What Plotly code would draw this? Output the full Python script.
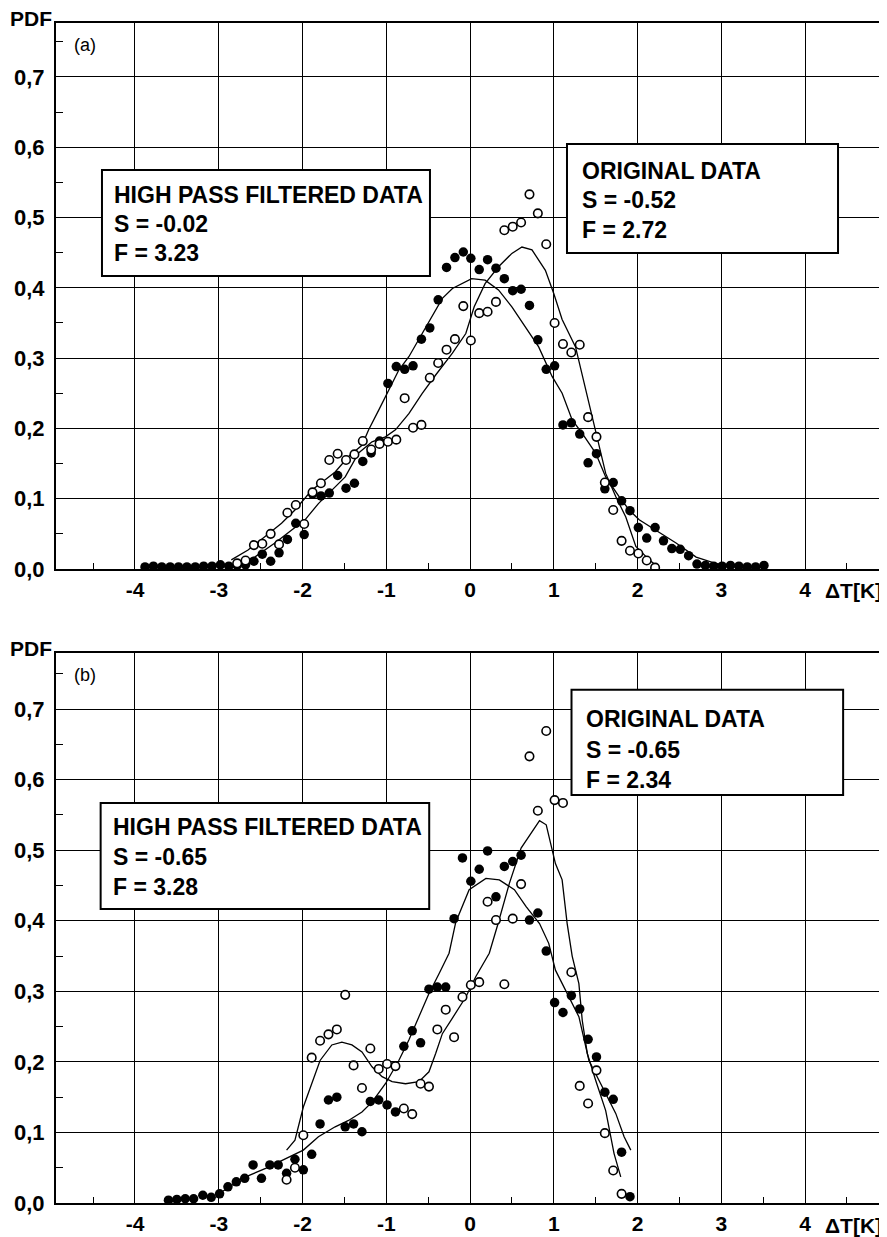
import plotly.graph_objects as go

# ---------------- data: panel (a) ----------------
a_fx = [
    -3.88, -3.78, -3.68, -3.58, -3.48, -3.38, -3.28, -3.18, -3.08, -2.98,
    -2.88, -2.78, -2.68, -2.58, -2.48, -2.38, -2.28, -2.18, -2.08, -1.98,
    -1.88, -1.78, -1.68, -1.58, -1.48, -1.38, -1.28, -1.18, -1.08, -0.98,
    -0.88, -0.78, -0.68, -0.58, -0.48, -0.38, -0.28, -0.18, -0.08, 0.01,
    0.11, 0.21, 0.31, 0.41, 0.51, 0.61, 0.71, 0.81, 0.91, 1.01,
    1.11, 1.21, 1.31, 1.41, 1.51, 1.61, 1.71, 1.81, 1.91, 2.01,
    2.11, 2.21, 2.31, 2.41, 2.51, 2.61, 2.71, 2.81, 2.91, 3.01,
    3.11, 3.21, 3.31, 3.41, 3.51]
a_fy = [
    0.003, 0.004, 0.003, 0.003, 0.003, 0.003, 0.003, 0.004, 0.004, 0.006,
    0.004, 0.005, 0.006, 0.011, 0.021, 0.011, 0.023, 0.042, 0.065, 0.049,
    0.107, 0.104, 0.108, 0.133, 0.115, 0.122, 0.153, 0.165, 0.182, 0.264,
    0.288, 0.284, 0.289, 0.327, 0.343, 0.383, 0.429, 0.443, 0.451, 0.442,
    0.426, 0.440, 0.428, 0.413, 0.396, 0.398, 0.375, 0.326, 0.284, 0.289,
    0.205, 0.208, 0.192, 0.151, 0.164, 0.114, 0.123, 0.097, 0.083, 0.059,
    0.044, 0.059, 0.040, 0.029, 0.028, 0.019, 0.007, 0.005, 0.004, 0.004,
    0.005, 0.004, 0.003, 0.003, 0.005]

a_ox = [
    -2.78, -2.68, -2.58, -2.48, -2.38, -2.28, -2.18, -2.08, -1.98, -1.88,
    -1.78, -1.68, -1.58, -1.48, -1.38, -1.28, -1.18, -1.08, -0.98, -0.88,
    -0.78, -0.68, -0.58, -0.48, -0.38, -0.28, -0.18, -0.08, 0.01, 0.11,
    0.21, 0.31, 0.41, 0.51, 0.61, 0.71, 0.81, 0.91, 1.01, 1.11,
    1.21, 1.31, 1.41, 1.51, 1.61, 1.71, 1.81, 1.91, 2.01, 2.11,
    2.21]
a_oy = [
    0.008, 0.012, 0.034, 0.036, 0.050, 0.035, 0.080, 0.091, 0.064, 0.109,
    0.122, 0.155, 0.164, 0.155, 0.163, 0.182, 0.170, 0.178, 0.181, 0.184,
    0.243, 0.201, 0.205, 0.272, 0.293, 0.312, 0.327, 0.374, 0.325, 0.364,
    0.366, 0.380, 0.482, 0.487, 0.493, 0.533, 0.506, 0.462, 0.350, 0.320,
    0.308, 0.319, 0.216, 0.188, 0.123, 0.084, 0.040, 0.026, 0.022, 0.012,
    0.002]

a_l1x = [-2.85, -2.65, -2.45, -2.25, -2.09, -1.89, -1.61, -1.45, -1.29, -1.21,
         -1.09, -0.97, -0.85, -0.73, -0.57, -0.45, -0.33, -0.21, 0.02, 0.18,
         0.34, 0.50, 0.66, 0.82, 0.98, 1.10, 1.22, 1.34, 1.50, 1.62,
         1.78, 1.90, 2.02, 2.22, 2.46, 2.70, 2.93, 3.17]
a_l1y = [0.013, 0.027, 0.046, 0.065, 0.084, 0.112, 0.138, 0.160, 0.176, 0.198,
         0.226, 0.255, 0.283, 0.302, 0.335, 0.360, 0.385, 0.399, 0.413, 0.411,
         0.397, 0.373, 0.345, 0.316, 0.274, 0.250, 0.212, 0.193, 0.165, 0.131,
         0.103, 0.084, 0.070, 0.055, 0.037, 0.017, 0.008, 0.003]

a_l2x = [-2.81, -2.57, -2.33, -2.13, -1.97, -1.81, -1.65, -1.49, -1.33, -1.17,
         -1.01, -0.89, -0.73, -0.57, -0.41, -0.21, -0.05, 0.05, 0.18, 0.34,
         0.50, 0.62, 0.74, 0.90, 1.00, 1.10, 1.26, 1.38, 1.50, 1.62,
         1.74, 1.86, 1.98, 2.14, 2.26]
a_l2y = [0.008, 0.017, 0.037, 0.055, 0.070, 0.093, 0.112, 0.131, 0.165, 0.181,
         0.188, 0.198, 0.221, 0.250, 0.276, 0.307, 0.335, 0.373, 0.406, 0.430,
         0.449, 0.458, 0.454, 0.425, 0.392, 0.355, 0.316, 0.255, 0.198, 0.136,
         0.103, 0.074, 0.032, 0.013, 0.001]

# ---------------- data: panel (b) ----------------
b_fx = [
    -3.60, -3.50, -3.40, -3.30, -3.19, -3.09, -2.99, -2.89, -2.79, -2.69,
    -2.59, -2.49, -2.39, -2.29, -2.19, -2.09, -1.99, -1.89, -1.79, -1.69,
    -1.59, -1.49, -1.39, -1.29, -1.19, -1.09, -0.99, -0.89, -0.79, -0.69,
    -0.59, -0.49, -0.39, -0.29, -0.19, -0.09, 0.01, 0.11, 0.21, 0.31,
    0.41, 0.51, 0.61, 0.71, 0.81, 0.91, 1.01, 1.11, 1.21, 1.31,
    1.41, 1.51, 1.61, 1.71, 1.81, 1.91]
b_fy = [
    0.004, 0.005, 0.006, 0.006, 0.011, 0.008, 0.013, 0.023, 0.030, 0.035,
    0.054, 0.035, 0.054, 0.054, 0.042, 0.062, 0.047, 0.069, 0.112, 0.146,
    0.150, 0.108, 0.112, 0.101, 0.144, 0.146, 0.139, 0.129, 0.222, 0.244,
    0.227, 0.303, 0.306, 0.306, 0.403, 0.489, 0.456, 0.473, 0.499, 0.434,
    0.477, 0.484, 0.493, 0.401, 0.411, 0.357, 0.284, 0.270, 0.294, 0.275,
    0.232, 0.207, 0.157, 0.147, 0.072, 0.009]

b_ox = [
    -2.19, -2.09, -1.99, -1.89, -1.79, -1.69, -1.59, -1.49, -1.39, -1.29,
    -1.19, -1.09, -0.99, -0.89, -0.79, -0.69, -0.59, -0.49, -0.39, -0.29,
    -0.19, -0.09, 0.01, 0.11, 0.21, 0.31, 0.41, 0.51, 0.61, 0.71,
    0.81, 0.91, 1.01, 1.11, 1.21, 1.31, 1.41, 1.51, 1.61, 1.71,
    1.81]
b_oy = [
    0.033, 0.050, 0.096, 0.206, 0.230, 0.239, 0.246, 0.295, 0.195, 0.163,
    0.219, 0.190, 0.197, 0.194, 0.134, 0.126, 0.169, 0.165, 0.246, 0.274,
    0.235, 0.292, 0.309, 0.313, 0.427, 0.401, 0.310, 0.403, 0.452, 0.633,
    0.556, 0.669, 0.571, 0.567, 0.327, 0.166, 0.141, 0.188, 0.099, 0.046,
    0.013]

b_l1x = [-2.96, -2.72, -2.44, -2.17, -1.99, -1.81, -1.61, -1.45, -1.29, -1.17,
         -1.01, -0.85, -0.73, -0.61, -0.49, -0.37, -0.25, -0.17, -0.01, 0.19,
         0.35, 0.53, 0.67, 0.83, 0.94, 1.02, 1.18, 1.30, 1.42, 1.58,
         1.74, 1.84, 1.92]
b_l1y = [0.016, 0.035, 0.049, 0.065, 0.075, 0.094, 0.108, 0.117, 0.129, 0.143,
         0.169, 0.202, 0.231, 0.264, 0.297, 0.325, 0.354, 0.398, 0.444, 0.460,
         0.458, 0.444, 0.420, 0.396, 0.368, 0.330, 0.292, 0.264, 0.202, 0.165,
         0.127, 0.094, 0.075]

b_l2x = [-2.19, -2.09, -1.99, -1.89, -1.79, -1.65, -1.53, -1.41, -1.29, -1.17,
         -1.05, -0.93, -0.77, -0.61, -0.49, -0.41, -0.33, -0.21, -0.05, 0.07,
         0.23, 0.33, 0.47, 0.61, 0.75, 0.83, 0.91, 1.02, 1.10, 1.16,
         1.22, 1.30, 1.34, 1.40, 1.50, 1.62, 1.72, 1.80]
b_l2y = [0.075, 0.089, 0.136, 0.169, 0.202, 0.224, 0.228, 0.224, 0.214, 0.193,
         0.179, 0.172, 0.169, 0.172, 0.186, 0.212, 0.240, 0.262, 0.292, 0.321,
         0.354, 0.394, 0.453, 0.503, 0.529, 0.542, 0.536, 0.481, 0.458, 0.396,
         0.350, 0.311, 0.259, 0.212, 0.174, 0.131, 0.070, 0.037]

# ---------------- tick labels / texts ----------------
x_ticks = [-4, -3, -2, -1, 0, 1, 2, 3, 4]
x_ticktext = ["-4", "-3", "-2", "-1", "0", "1", "2", "3", "4"]
y_ticks = [0.0, 0.1, 0.2, 0.3, 0.4, 0.5, 0.6, 0.7]
y_ticktext = ["0,0", "0,1", "0,2", "0,3", "0,4", "0,5", "0,6", "0,7"]

a_hp_text = ["HIGH PASS FILTERED DATA", "S = -0.02", "F = 3.23"]
a_or_text = ["ORIGINAL DATA", "S = -0.52", "F = 2.72"]
b_hp_text = ["HIGH PASS FILTERED DATA", "S = -0.65", "F = 3.28"]
b_or_text = ["ORIGINAL DATA", "S = -0.65", "F = 2.34"]

FONT = "Liberation Sans, Arial, sans-serif"

fig = go.Figure()


def add_panel(xa, ya, fx, fy, ox, oy, l1x, l1y, l2x, l2y):
    fig.add_trace(go.Scatter(x=l1x, y=l1y, mode="lines", xaxis=xa, yaxis=ya,
                             line=dict(color="black", width=1.3), hoverinfo="skip"))
    fig.add_trace(go.Scatter(x=l2x, y=l2y, mode="lines", xaxis=xa, yaxis=ya,
                             line=dict(color="black", width=1.3), hoverinfo="skip"))
    fig.add_trace(go.Scatter(x=fx, y=fy, mode="markers", xaxis=xa, yaxis=ya,
                             marker=dict(symbol="circle", size=9.5, color="black",
                                         line=dict(width=0))))
    fig.add_trace(go.Scatter(x=ox, y=oy, mode="markers", xaxis=xa, yaxis=ya,
                             marker=dict(symbol="circle", size=8.5, color="white",
                                         line=dict(width=1.6, color="black"))))


add_panel("x", "y", a_fx, a_fy, a_ox, a_oy, a_l1x, a_l1y, a_l2x, a_l2y)
add_panel("x2", "y2", b_fx, b_fy, b_ox, b_oy, b_l1x, b_l1y, b_l2x, b_l2y)

xminor = [v + 0.5 for v in range(-5, 5)]
yminor = [0.05 + 0.1 * k for k in range(8)]

xcommon = dict(range=[-4.943, 4.931], tickmode="array", tickvals=x_ticks,
               ticktext=x_ticktext, showgrid=True, gridcolor="black", gridwidth=1.3,
               zeroline=False, showline=True, linecolor="black", linewidth=2,
               mirror=True, ticks="", ticklabelstandoff=1, automargin=False,
               tickfont=dict(family=FONT, size=21, color="black", weight="bold"),
               minor=dict(tickmode="array", tickvals=xminor, ticks="inside",
                          ticklen=6, tickwidth=1.2, tickcolor="black", showgrid=False))
ycommon = dict(tickmode="array", tickvals=y_ticks, ticktext=y_ticktext,
               showgrid=True, gridcolor="black", gridwidth=1.3, zeroline=False,
               showline=True, linecolor="black", linewidth=2, mirror=True,
               ticks="", ticklabelstandoff=5, automargin=False,
               tickfont=dict(family=FONT, size=22, color="black", weight="bold"),
               minor=dict(tickmode="array", tickvals=yminor, ticks="inside",
                          ticklen=7, tickwidth=1.2, tickcolor="black", showgrid=False))

# the page body adds an 8 px offset, so the figure is 8 px smaller each way
fig.update_layout(
    width=879, height=1229,
    margin=dict(l=48, r=4, t=15, b=34, autoexpand=False),
    paper_bgcolor="white", plot_bgcolor="white",
    showlegend=False,
    xaxis=dict(domain=[0, 1], anchor="y", **xcommon),
    yaxis=dict(domain=[0.5373, 1.0], anchor="x", range=[0, 0.7768], **ycommon),
    xaxis2=dict(domain=[0, 1], anchor="y2", **xcommon),
    yaxis2=dict(domain=[0.0, 0.4658], anchor="x2", range=[0, 0.779], **ycommon),
)

shapes = []
annots = []


def box(xr, yr, x0, x1, y0, y1, tx, ty, lines):
    shapes.append(dict(type="rect", xref=xr, yref=yr, x0=x0, x1=x1, y0=y0, y1=y1,
                       fillcolor="white", line=dict(color="black", width=2),
                       layer="above"))
    for t, yy in zip(lines, ty):
        annots.append(dict(xref=xr, yref=yr, x=tx, y=yy, text=t, showarrow=False,
                           xanchor="left", yanchor="middle", borderpad=0,
                           font=dict(family=FONT, size=23, color="black", weight="bold")))


box("x", "y", -4.394, -0.478, 0.4168, 0.5676, -4.26, [0.532, 0.4908, 0.4495], a_hp_text)
box("x", "y", 1.158, 4.394, 0.4495, 0.6046, 1.32, [0.5661, 0.5249, 0.4822], a_or_text)
box("x2", "y2", -4.41, -0.487, 0.4166, 0.567, -4.275, [0.533, 0.4904, 0.4478], b_hp_text)
box("x2", "y2", 1.212, 4.455, 0.5783, 0.7273, 1.375, [0.6854, 0.6414, 0.5988], b_or_text)

for xa, ya, lab in [("x", "y", "(a)"), ("x2", "y2", "(b)")]:
    annots.append(dict(xref=xa + " domain", yref=ya + " domain", x=0, y=1,
                       xshift=29, yshift=-22, text=lab,
                       showarrow=False, xanchor="center", yanchor="middle",
                       font=dict(family=FONT, size=18, color="black")))
    annots.append(dict(xref=xa + " domain", yref=ya + " domain", x=0, y=1,
                       xshift=-2, yshift=5, text="PDF",
                       showarrow=False, xanchor="right", yanchor="middle",
                       font=dict(family=FONT, size=21, color="black", weight="bold")))
    annots.append(dict(xref=xa, yref=ya + " domain", x=4.573, y=0, yshift=-22,
                       text="ΔT[K]", showarrow=False, xanchor="center",
                       yanchor="middle",
                       font=dict(family=FONT, size=21, color="black", weight="bold")))

fig.update_layout(shapes=shapes, annotations=annots)
fig.write_html("out.html")
